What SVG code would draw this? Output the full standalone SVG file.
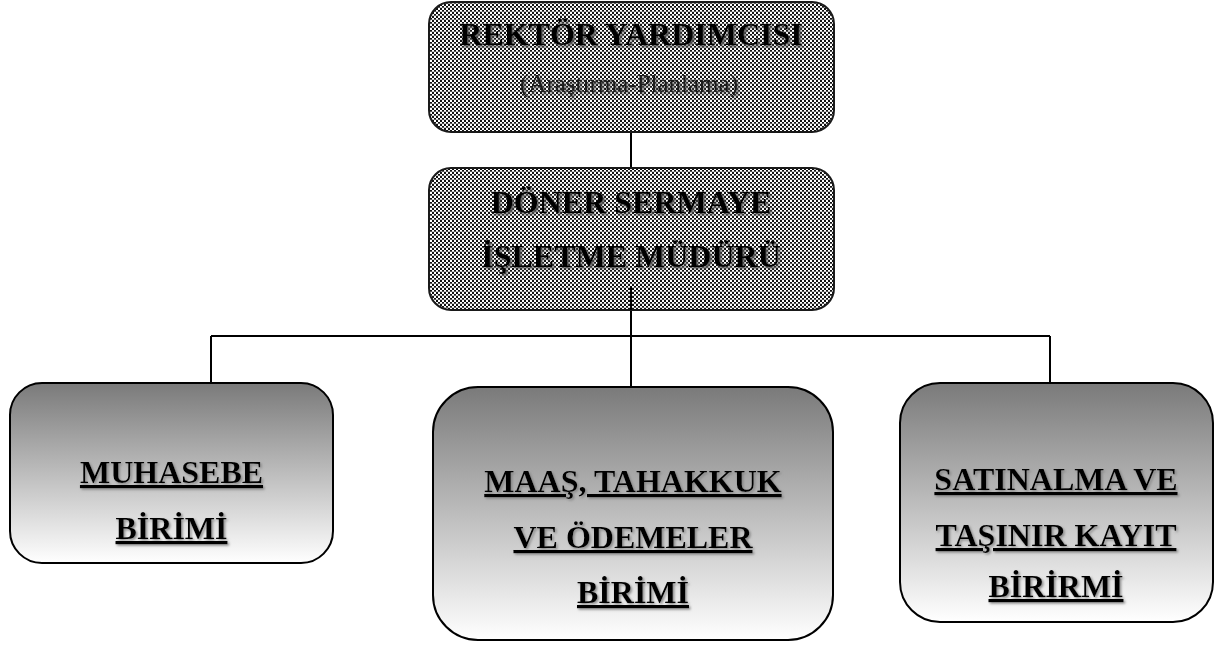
<svg xmlns="http://www.w3.org/2000/svg" width="1221" height="645" viewBox="0 0 1221 645">
  <defs>
    <pattern id="checker" width="4" height="4" patternUnits="userSpaceOnUse">
      <rect width="4" height="4" fill="#ffffff"/>
      <rect x="0" y="0" width="2" height="2" fill="#111111"/>
      <rect x="2" y="2" width="2" height="2" fill="#111111"/>
      <rect x="0" y="3.5" width="4" height="0.5" fill="#9a9a9a"/>
    </pattern>
    <linearGradient id="grad" x1="0" y1="0" x2="0" y2="1">
      <stop offset="0" stop-color="#7a7a7a"/>
      <stop offset="1" stop-color="#ffffff"/>
    </linearGradient>
    <filter id="shadow" x="-10%" y="-30%" width="120%" height="160%">
      <feDropShadow dx="1.5" dy="1.5" stdDeviation="1" flood-color="#808080" flood-opacity="0.9"/>
    </filter>
    <filter id="shadowTop" x="-10%" y="-30%" width="120%" height="160%">
      <feDropShadow dx="2" dy="2" stdDeviation="1" flood-color="#555555" flood-opacity="0.9"/>
    </filter>
  </defs>
  <style>
    .top { fill: url(#checker); stroke: #1a1a1a; stroke-width: 2; }
    .unit { fill: url(#grad); stroke: #000; stroke-width: 2; }
    .conn { stroke: #000; stroke-width: 2; fill: none; }
    .t { font-family: "Liberation Serif", "Times New Roman", serif; font-weight: bold; font-size: 32px; fill: #000; text-anchor: middle; filter: url(#shadow); }
    .tt { filter: url(#shadowTop); }
    .sub { font-family: "Liberation Serif", "Times New Roman", serif; font-size: 25px; fill: #1a1a1a; text-anchor: middle; filter: url(#shadowTop); }
    .u { text-decoration: underline; text-decoration-thickness: 3px; }
  </style>

  <g id="connectors">
    <line class="conn" x1="631" y1="118" x2="631" y2="168"/>
    <line class="conn" x1="631" y1="286" x2="631" y2="387"/>
    <line class="conn" x1="211" y1="336" x2="1050" y2="336"/>
    <line class="conn" x1="211" y1="336" x2="211" y2="383"/>
    <line class="conn" x1="1050" y1="336" x2="1050" y2="383"/>
  </g>

  <g id="rektor-yardimcisi">
    <rect class="top" x="429" y="2" width="405" height="130" rx="22" ry="22"/>
    <text class="t tt" x="631" y="45">REKTÖR YARDIMCISI</text>
    <text class="sub" x="629" y="92">(Araştırma-Planlama)</text>
  </g>

  <g id="doner-sermaye">
    <rect class="top" x="429" y="168" width="405" height="142" rx="22" ry="22"/>
    <text class="t tt" x="631" y="213">DÖNER SERMAYE</text>
    <text class="t tt" x="631" y="267">İŞLETME MÜDÜRÜ</text>
  </g>

  <line class="conn" x1="631" y1="286" x2="631" y2="310"/>

  <g id="muhasebe">
    <rect class="unit" x="10" y="383" width="323" height="180" rx="32" ry="32"/>
    <text class="t u" x="171.5" y="483">MUHASEBE</text>
    <text class="t u" x="171.5" y="539">BİRİMİ</text>
  </g>

  <g id="maas">
    <rect class="unit" x="433" y="387" width="400" height="253" rx="45" ry="45"/>
    <text class="t u" x="633" y="492">MAAŞ, TAHAKKUK</text>
    <text class="t u" x="633" y="548">VE ÖDEMELER</text>
    <text class="t u" x="633" y="603">BİRİMİ</text>
  </g>

  <g id="satinalma">
    <rect class="unit" x="900" y="383" width="313" height="239" rx="40" ry="40"/>
    <text class="t u" x="1056" y="490">SATINALMA VE</text>
    <text class="t u" x="1056" y="546">TAŞINIR KAYIT</text>
    <text class="t u" x="1056" y="597">BİRİRMİ</text>
  </g>
</svg>
